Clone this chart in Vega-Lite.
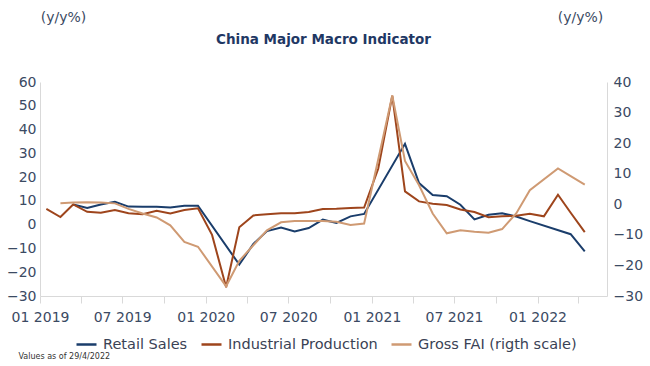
{
  "$schema": "https://vega.github.io/schema/vega-lite/v6.json",
  "autosize": "none",
  "width": 567,
  "height": 214,
  "padding": {"left": 40, "top": 82, "right": 43, "bottom": 70},
  "background": "white",
  "title": {
    "text": "China Major Macro Indicator",
    "anchor": "middle",
    "frame": "group",
    "offset": -36,
    "fontSize": 13.5,
    "fontWeight": "bold",
    "font": "DejaVu Sans",
    "color": "#1f3864"
  },
  "config": {
    "view": {"stroke": null},
    "font": "DejaVu Sans",
    "legend": {
      "orient": "none",
      "legendX": 35,
      "legendY": 251,
      "direction": "horizontal",
      "title": null,
      "symbolType": "stroke",
      "symbolSize": 400,
      "symbolStrokeWidth": 2.5,
      "labelFontSize": 14.5,
      "labelColor": "#3a4255",
      "labelFont": "DejaVu Sans",
      "columnPadding": 8,
      "labelOffset": 5
    }
  },
  "data": {
    "values": [
      {"d": "2019-03-15", "s": "Retail Sales", "v": 8.5},
      {"d": "2019-04-15", "s": "Retail Sales", "v": 7.0},
      {"d": "2019-05-15", "s": "Retail Sales", "v": 8.5},
      {"d": "2019-06-15", "s": "Retail Sales", "v": 9.6},
      {"d": "2019-07-15", "s": "Retail Sales", "v": 7.6},
      {"d": "2019-08-15", "s": "Retail Sales", "v": 7.5},
      {"d": "2019-09-15", "s": "Retail Sales", "v": 7.5},
      {"d": "2019-10-15", "s": "Retail Sales", "v": 7.2},
      {"d": "2019-11-15", "s": "Retail Sales", "v": 8.0},
      {"d": "2019-12-15", "s": "Retail Sales", "v": 8.0},
      {"d": "2020-03-15", "s": "Retail Sales", "v": -16.8},
      {"d": "2020-04-15", "s": "Retail Sales", "v": -8.1},
      {"d": "2020-05-15", "s": "Retail Sales", "v": -2.7},
      {"d": "2020-06-15", "s": "Retail Sales", "v": -1.2},
      {"d": "2020-07-15", "s": "Retail Sales", "v": -2.9},
      {"d": "2020-08-15", "s": "Retail Sales", "v": -1.4},
      {"d": "2020-09-15", "s": "Retail Sales", "v": 2.1},
      {"d": "2020-10-15", "s": "Retail Sales", "v": 0.7},
      {"d": "2020-11-15", "s": "Retail Sales", "v": 3.5},
      {"d": "2020-12-15", "s": "Retail Sales", "v": 4.5},
      {"d": "2021-03-15", "s": "Retail Sales", "v": 34.0},
      {"d": "2021-04-15", "s": "Retail Sales", "v": 17.5},
      {"d": "2021-05-15", "s": "Retail Sales", "v": 12.5},
      {"d": "2021-06-15", "s": "Retail Sales", "v": 12.0},
      {"d": "2021-07-15", "s": "Retail Sales", "v": 8.4},
      {"d": "2021-08-15", "s": "Retail Sales", "v": 2.2},
      {"d": "2021-09-15", "s": "Retail Sales", "v": 4.2},
      {"d": "2021-10-15", "s": "Retail Sales", "v": 4.8},
      {"d": "2021-11-15", "s": "Retail Sales", "v": 3.4},
      {"d": "2021-12-15", "s": "Retail Sales", "v": 1.5},
      {"d": "2022-03-15", "s": "Retail Sales", "v": -4.0},
      {"d": "2022-04-15", "s": "Retail Sales", "v": -11.2},
      {"d": "2019-01-15", "s": "Industrial Production", "v": 6.6},
      {"d": "2019-02-15", "s": "Industrial Production", "v": 3.2},
      {"d": "2019-03-15", "s": "Industrial Production", "v": 8.5},
      {"d": "2019-04-15", "s": "Industrial Production", "v": 5.4},
      {"d": "2019-05-15", "s": "Industrial Production", "v": 5.0},
      {"d": "2019-06-15", "s": "Industrial Production", "v": 6.2},
      {"d": "2019-07-15", "s": "Industrial Production", "v": 4.8},
      {"d": "2019-08-15", "s": "Industrial Production", "v": 4.4},
      {"d": "2019-09-15", "s": "Industrial Production", "v": 5.8},
      {"d": "2019-10-15", "s": "Industrial Production", "v": 4.7},
      {"d": "2019-11-15", "s": "Industrial Production", "v": 6.2},
      {"d": "2019-12-15", "s": "Industrial Production", "v": 6.9},
      {"d": "2020-01-15", "s": "Industrial Production", "v": -4.3},
      {"d": "2020-02-15", "s": "Industrial Production", "v": -26.3},
      {"d": "2020-03-15", "s": "Industrial Production", "v": -1.1},
      {"d": "2020-04-15", "s": "Industrial Production", "v": 3.9},
      {"d": "2020-05-15", "s": "Industrial Production", "v": 4.4},
      {"d": "2020-06-15", "s": "Industrial Production", "v": 4.8},
      {"d": "2020-07-15", "s": "Industrial Production", "v": 4.8},
      {"d": "2020-08-15", "s": "Industrial Production", "v": 5.3},
      {"d": "2020-09-15", "s": "Industrial Production", "v": 6.6},
      {"d": "2020-10-15", "s": "Industrial Production", "v": 6.7},
      {"d": "2020-11-15", "s": "Industrial Production", "v": 7.0},
      {"d": "2020-12-15", "s": "Industrial Production", "v": 7.2},
      {"d": "2021-01-15", "s": "Industrial Production", "v": 23.5},
      {"d": "2021-02-15", "s": "Industrial Production", "v": 54.2},
      {"d": "2021-03-15", "s": "Industrial Production", "v": 14.0},
      {"d": "2021-04-15", "s": "Industrial Production", "v": 9.8},
      {"d": "2021-05-15", "s": "Industrial Production", "v": 8.8},
      {"d": "2021-06-15", "s": "Industrial Production", "v": 8.3},
      {"d": "2021-07-15", "s": "Industrial Production", "v": 6.4},
      {"d": "2021-08-15", "s": "Industrial Production", "v": 5.3},
      {"d": "2021-09-15", "s": "Industrial Production", "v": 3.1},
      {"d": "2021-10-15", "s": "Industrial Production", "v": 3.5},
      {"d": "2021-11-15", "s": "Industrial Production", "v": 3.8},
      {"d": "2021-12-15", "s": "Industrial Production", "v": 4.6},
      {"d": "2022-01-15", "s": "Industrial Production", "v": 3.5},
      {"d": "2022-02-15", "s": "Industrial Production", "v": 12.6},
      {"d": "2022-03-15", "s": "Industrial Production", "v": 5.0},
      {"d": "2022-04-15", "s": "Industrial Production", "v": -3.1},
      {"d": "2019-02-15", "s": "Gross FAI (rigth scale)", "v": 0.3},
      {"d": "2019-03-15", "s": "Gross FAI (rigth scale)", "v": 0.6},
      {"d": "2019-04-15", "s": "Gross FAI (rigth scale)", "v": 0.7},
      {"d": "2019-05-15", "s": "Gross FAI (rigth scale)", "v": 0.6},
      {"d": "2019-06-15", "s": "Gross FAI (rigth scale)", "v": 0.3},
      {"d": "2019-07-15", "s": "Gross FAI (rigth scale)", "v": -1.5},
      {"d": "2019-08-15", "s": "Gross FAI (rigth scale)", "v": -3.0},
      {"d": "2019-09-15", "s": "Gross FAI (rigth scale)", "v": -4.3},
      {"d": "2019-10-15", "s": "Gross FAI (rigth scale)", "v": -6.9},
      {"d": "2019-11-15", "s": "Gross FAI (rigth scale)", "v": -12.3},
      {"d": "2019-12-15", "s": "Gross FAI (rigth scale)", "v": -13.9},
      {"d": "2020-02-15", "s": "Gross FAI (rigth scale)", "v": -26.8},
      {"d": "2020-03-15", "s": "Gross FAI (rigth scale)", "v": -18.5},
      {"d": "2020-04-15", "s": "Gross FAI (rigth scale)", "v": -13.4},
      {"d": "2020-05-15", "s": "Gross FAI (rigth scale)", "v": -8.5},
      {"d": "2020-06-15", "s": "Gross FAI (rigth scale)", "v": -5.9},
      {"d": "2020-07-15", "s": "Gross FAI (rigth scale)", "v": -5.5},
      {"d": "2020-08-15", "s": "Gross FAI (rigth scale)", "v": -5.5},
      {"d": "2020-09-15", "s": "Gross FAI (rigth scale)", "v": -5.5},
      {"d": "2020-10-15", "s": "Gross FAI (rigth scale)", "v": -5.7},
      {"d": "2020-11-15", "s": "Gross FAI (rigth scale)", "v": -6.8},
      {"d": "2020-12-15", "s": "Gross FAI (rigth scale)", "v": -6.3},
      {"d": "2021-02-15", "s": "Gross FAI (rigth scale)", "v": 35.6},
      {"d": "2021-03-15", "s": "Gross FAI (rigth scale)", "v": 14.2},
      {"d": "2021-04-15", "s": "Gross FAI (rigth scale)", "v": 6.2},
      {"d": "2021-05-15", "s": "Gross FAI (rigth scale)", "v": -3.0},
      {"d": "2021-06-15", "s": "Gross FAI (rigth scale)", "v": -9.5},
      {"d": "2021-07-15", "s": "Gross FAI (rigth scale)", "v": -8.5},
      {"d": "2021-08-15", "s": "Gross FAI (rigth scale)", "v": -9.0},
      {"d": "2021-09-15", "s": "Gross FAI (rigth scale)", "v": -9.3},
      {"d": "2021-10-15", "s": "Gross FAI (rigth scale)", "v": -8.1},
      {"d": "2021-11-15", "s": "Gross FAI (rigth scale)", "v": -3.0},
      {"d": "2021-12-15", "s": "Gross FAI (rigth scale)", "v": 4.6},
      {"d": "2022-02-15", "s": "Gross FAI (rigth scale)", "v": 11.7},
      {"d": "2022-03-15", "s": "Gross FAI (rigth scale)", "v": 9.2},
      {"d": "2022-04-15", "s": "Gross FAI (rigth scale)", "v": 6.4}
    ]
  },
  "encoding": {
    "x": {
      "field": "d",
      "type": "temporal",
      "scale": {
        "type": "utc",
        "domain": [
          {"year": 2019, "month": 1, "date": 1, "utc": true},
          {"year": 2022, "month": 6, "date": 3, "utc": true}
        ]
      },
      "axis": {
        "title": "Values as of 29/4/2022",
        "titleX": -22,
        "titleY": 60,
        "titleAlign": "left",
        "titleBaseline": "middle",
        "titleFontSize": 8,
        "titleFontWeight": "normal",
        "titleColor": "#333333",
        "values": [
          {"year": 2019, "month": 1, "date": 1, "utc": true},
          {"year": 2019, "month": 4, "date": 1, "utc": true},
          {"year": 2019, "month": 7, "date": 1, "utc": true},
          {"year": 2019, "month": 10, "date": 1, "utc": true},
          {"year": 2020, "month": 1, "date": 1, "utc": true},
          {"year": 2020, "month": 4, "date": 1, "utc": true},
          {"year": 2020, "month": 7, "date": 1, "utc": true},
          {"year": 2020, "month": 10, "date": 1, "utc": true},
          {"year": 2021, "month": 1, "date": 1, "utc": true},
          {"year": 2021, "month": 4, "date": 1, "utc": true},
          {"year": 2021, "month": 7, "date": 1, "utc": true},
          {"year": 2021, "month": 10, "date": 1, "utc": true},
          {"year": 2022, "month": 1, "date": 1, "utc": true},
          {"year": 2022, "month": 4, "date": 1, "utc": true}
        ],
        "labelExpr": "utcmonth(datum.value) % 6 == 0 ? utcFormat(datum.value, '%m %Y') : ''",
        "labelFlush": false,
        "labelOverlap": false,
        "labelBound": false,
        "labelFontSize": 14,
        "labelColor": "#3b4a63",
        "labelPadding": 7,
        "grid": false,
        "domainColor": "#d9d9d9",
        "tickColor": "#d9d9d9",
        "tickSize": 7
      }
    },
    "color": {
      "field": "s",
      "type": "nominal",
      "scale": {
        "domain": ["Retail Sales", "Industrial Production", "Gross FAI (rigth scale)"],
        "range": ["#1a3d6b", "#9e451c", "#cf9a73"]
      }
    }
  },
  "layer": [
    {
      "transform": [{"filter": "datum.s !== 'Gross FAI (rigth scale)'"}],
      "mark": {"type": "line", "strokeWidth": 2},
      "encoding": {
        "y": {
          "field": "v",
          "type": "quantitative",
          "scale": {"domain": [-30, 60], "nice": false, "zero": false},
          "axis": {
            "orient": "left",
            "values": [-30, -20, -10, 0, 10, 20, 30, 40, 50, 60],
            "title": "(y/y%)",
            "titleAngle": 0,
            "titleX": 23,
            "titleY": -65,
            "titleAlign": "center",
            "titleBaseline": "middle",
            "titleFontSize": 14,
            "titleFontWeight": "normal",
            "titleColor": "#3b4a63",
            "labelFontSize": 14,
            "labelColor": "#3b4a63",
            "labelPadding": 4,
            "ticks": false,
            "grid": false,
            "domainColor": "#d9d9d9"
          }
        }
      }
    },
    {
      "transform": [{"filter": "datum.s === 'Gross FAI (rigth scale)'"}],
      "mark": {"type": "line", "strokeWidth": 2},
      "encoding": {
        "y": {
          "field": "v",
          "type": "quantitative",
          "scale": {"domain": [-30, 40], "nice": false, "zero": false},
          "axis": {
            "orient": "right",
            "values": [-30, -20, -10, 0, 10, 20, 30, 40],
            "title": "(y/y%)",
            "titleAngle": 0,
            "titleX": -27,
            "titleY": -65,
            "titleAlign": "center",
            "titleBaseline": "middle",
            "titleFontSize": 14,
            "titleFontWeight": "normal",
            "titleColor": "#3b4a63",
            "labelFontSize": 14,
            "labelColor": "#3b4a63",
            "labelPadding": 6,
            "ticks": false,
            "grid": false,
            "domainColor": "#d9d9d9"
          }
        }
      }
    }
  ],
  "resolve": {"scale": {"y": "independent"}, "axis": {"y": "independent"}}
}
